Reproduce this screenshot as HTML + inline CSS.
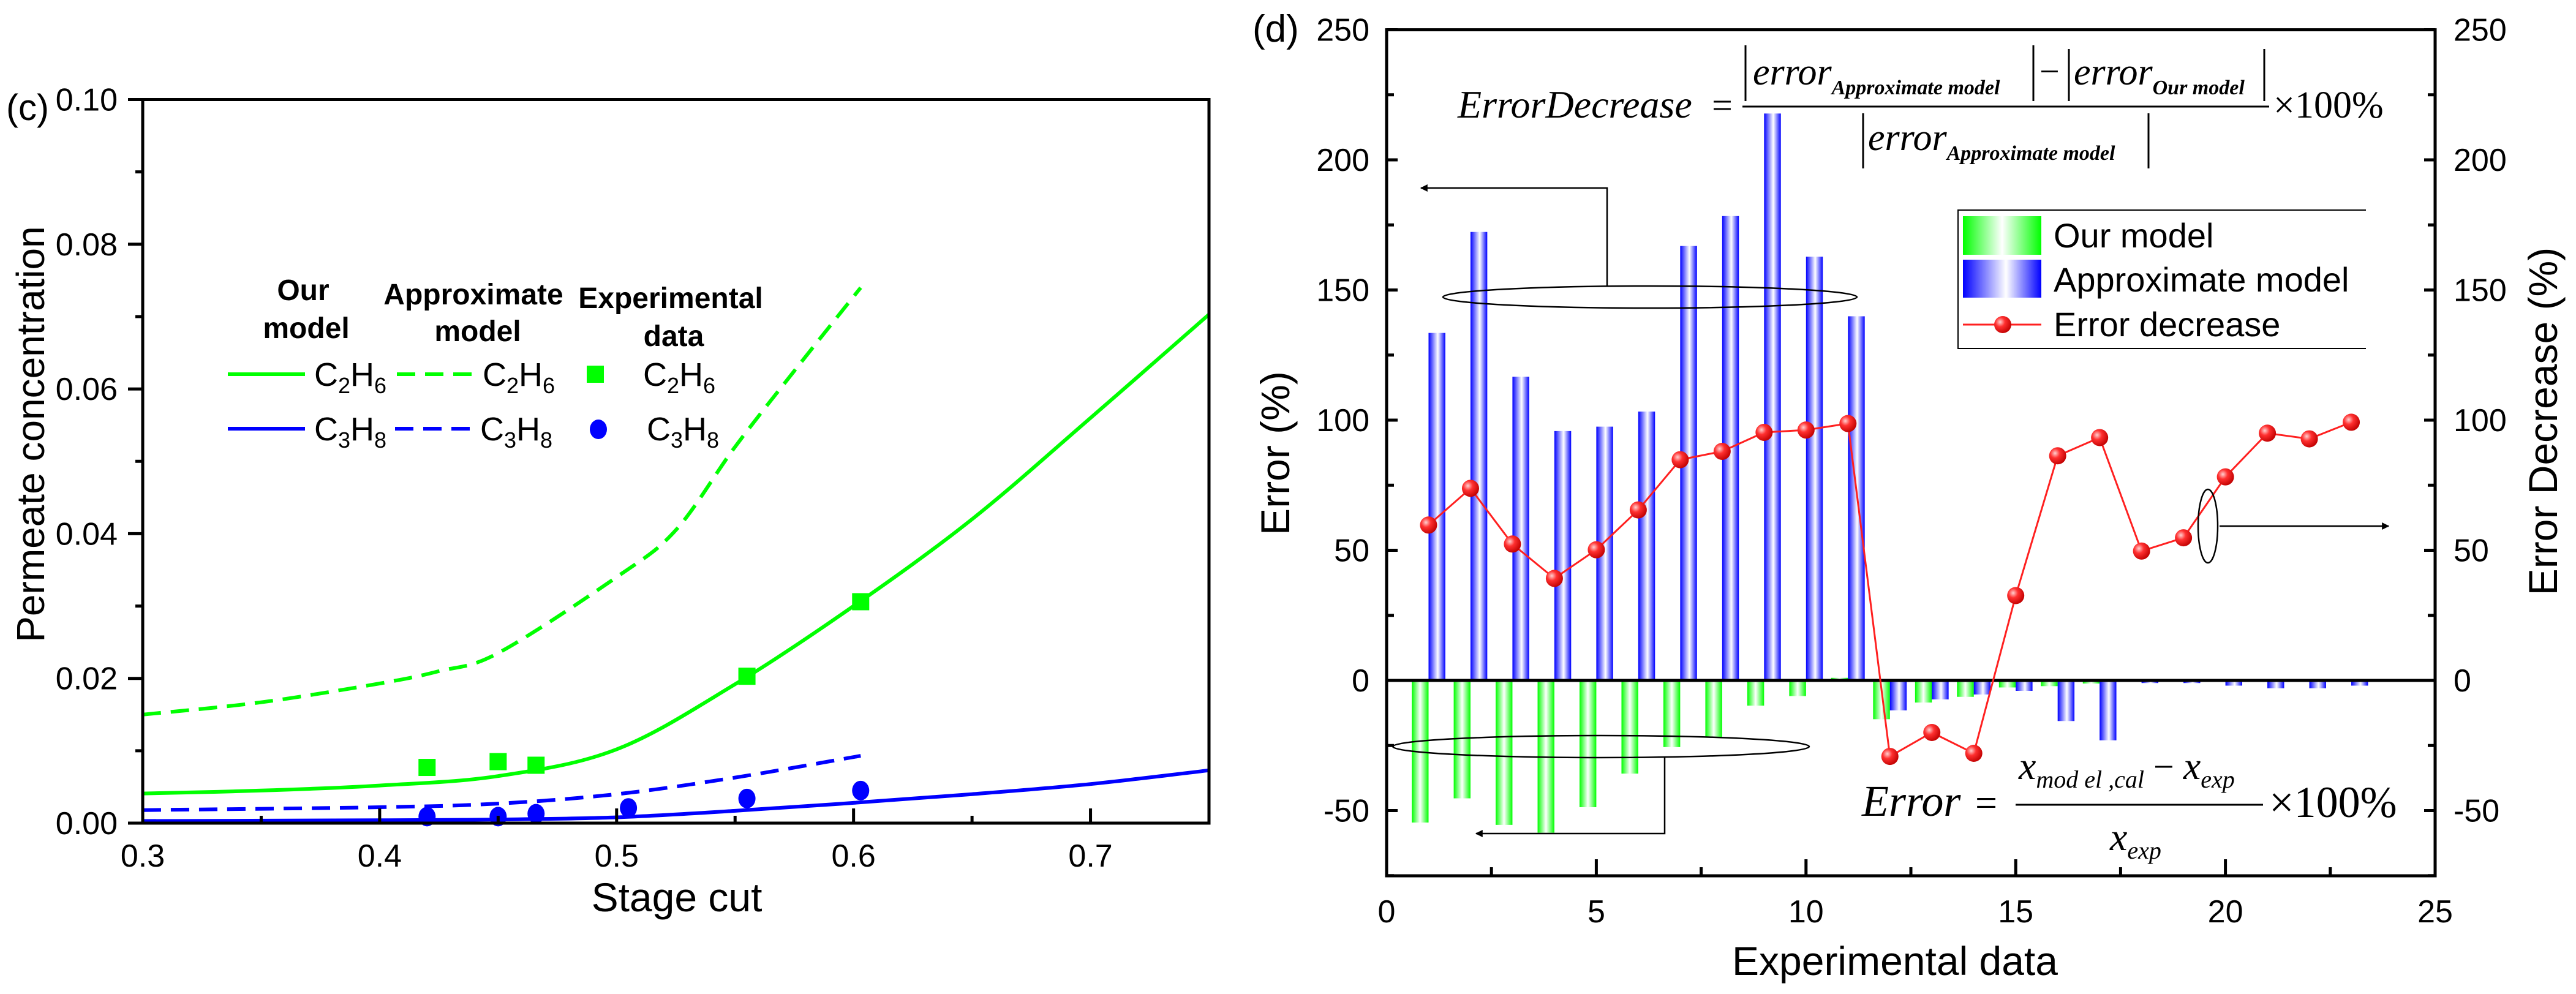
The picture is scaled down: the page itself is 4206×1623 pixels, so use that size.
<!DOCTYPE html>
<html><head><meta charset="utf-8"><style>
html,body{margin:0;padding:0;background:#fff;}
svg{display:block;font-family:"Liberation Sans",Arial,sans-serif;}
.tk{font-size:52px;}
</style></head><body>
<svg id="svg" width="4206" height="1623" viewBox="0 0 4206 1623" xmlns="http://www.w3.org/2000/svg">
<defs>
<linearGradient id="gB" x1="0" x2="1" y1="0" y2="0"><stop offset="0" stop-color="#0000ff"/><stop offset="0.55" stop-color="#ffffff"/><stop offset="1" stop-color="#0000ff"/></linearGradient>
<linearGradient id="gG" x1="0" x2="1" y1="0" y2="0"><stop offset="0" stop-color="#00ff00"/><stop offset="0.5" stop-color="#ffffff"/><stop offset="1" stop-color="#00ff00"/></linearGradient>
<radialGradient id="gR" cx="0.35" cy="0.35" r="0.7"><stop offset="0" stop-color="#ffd0d0"/><stop offset="0.4" stop-color="#ff3030"/><stop offset="1" stop-color="#c00000"/></radialGradient>
<marker id="arr" viewBox="0 0 10 10" refX="9" refY="5" markerWidth="12" markerHeight="12" markerUnits="userSpaceOnUse" orient="auto"><path d="M0,0 L10,5 L0,10 z" fill="#000"/></marker>
</defs>
<g id="left"></g>
<g id="right"></g>
</svg>
<script>
// ---------- Panel (c) data ----------
const ourC2x=[0.3,0.35,0.4,0.45,0.5,0.55,0.6,0.65,0.7,0.75];
const ourC2y=[0.0041,0.0045,0.0052,0.0065,0.0102,0.0192,0.0300,0.0420,0.0560,0.0703];
const apxC2x=[0.3,0.35,0.4,0.425,0.45,0.5,0.525,0.55,0.575,0.603];
const apxC2y=[0.0150,0.0167,0.0193,0.0210,0.0235,0.0340,0.0405,0.0520,0.0625,0.0740];
const ourC3x=[0.3,0.4,0.45,0.5,0.55,0.6,0.65,0.7,0.75];
const ourC3y=[0.0003,0.0004,0.0005,0.0008,0.0017,0.0028,0.0040,0.0054,0.0073];
const apxC3x=[0.3,0.4,0.45,0.5,0.55,0.603];
const apxC3y=[0.0018,0.0022,0.0027,0.0040,0.0063,0.0093];
const expC2x=[0.42,0.45,0.466,0.555,0.603];
const expC2y=[0.0077,0.0085,0.0080,0.0203,0.0306];
const expC3x=[0.42,0.45,0.466,0.505,0.555,0.603];
const expC3y=[0.0009,0.0009,0.0013,0.0021,0.0034,0.0045];
const cXTicks=[0.3,0.4,0.5,0.6,0.7];
const cYTicks=[0,0.02,0.04,0.06,0.08,0.10];
// ---------- Panel (d) data ----------
const dIndex=[1,2,3,4,5,6,7,8,9,10,11,12,13,14,15,16,17,18,19,20,21,22,23];
const ourErr=[-54.6,-45.3,-55.5,-58.5,-48.7,-35.8,-25.6,-21.7,-9.7,-6,1,-14.9,-8.5,-6.3,-2.7,-2.2,-1.2,-0.4,-0.4,-0.4,-0.4,-0.4,-0.4];
const apxErr=[133.5,172.3,116.7,95.8,97.5,103.3,166.9,178.4,217.8,162.8,139.9,-11.5,-7.3,-5.4,-4,-15.6,-23,-1,-1,-2,-3,-3,-2];
const errDec=[59.7,73.8,52.4,39.2,50.2,65.5,84.8,88,95.3,96.2,98.7,-29.2,-20,-28,32.6,86.3,93.3,49.7,54.8,78.2,95,92.8,99.2];
const dXTicks=[0,5,10,15,20,25];
const dYTicks=[-50,0,50,100,150,200,250];

const NS="http://www.w3.org/2000/svg";
function mk(parent,tag,attrs,text){const e=document.createElementNS(NS,tag);for(const k in attrs)e.setAttribute(k,attrs[k]);if(text!==undefined)e.textContent=text;parent.appendChild(e);return e;}

// ===== Panel c =====
const L=document.getElementById('left');
const cx0=233,cx1=1974,cy0=1344,cy1=162.5;
const X=v=>cx0+(v-0.3)/0.45*(cx1-cx0);
const Y=v=>cy0-v/0.1*(cy0-cy1);
function path(xs,ys,fx,fy){
  const p=xs.map((x,i)=>[fx(x),fy(ys[i])]);
  let d='M'+p[0][0].toFixed(1)+','+p[0][1].toFixed(1);
  for(let i=0;i<p.length-1;i++){
    const p0=p[Math.max(i-1,0)],p1=p[i],p2=p[i+1],p3=p[Math.min(i+2,p.length-1)];
    const c1=[p1[0]+(p2[0]-p0[0])/6,p1[1]+(p2[1]-p0[1])/6];
    const c2=[p2[0]-(p3[0]-p1[0])/6,p2[1]-(p3[1]-p1[1])/6];
    d+=' C'+c1.map(v=>v.toFixed(1)).join(',')+' '+c2.map(v=>v.toFixed(1)).join(',')+' '+p2.map(v=>v.toFixed(1)).join(',');
  }
  return d;}
let e;
e=mk(L,'path',{d:path(apxC2x,apxC2y,X,Y),fill:'none',stroke:'#00ff00','stroke-width':6,'stroke-dasharray':'30,16'});

e=mk(L,'path',{d:path(apxC3x,apxC3y,X,Y),fill:'none',stroke:'#0000ff','stroke-width':6,'stroke-dasharray':'30,16'});

e=mk(L,'path',{d:path(ourC2x,ourC2y,X,Y),fill:'none',stroke:'#00ff00','stroke-width':6});

e=mk(L,'path',{d:path(ourC3x,ourC3y,X,Y),fill:'none',stroke:'#0000ff','stroke-width':6});

expC2x.forEach((x,i)=>{const r=mk(L,'rect',{x:X(x)-14,y:Y(expC2y[i])-14,width:28,height:28,fill:'#00ff00'});
});
expC3x.forEach((x,i)=>{const c=mk(L,'ellipse',{cx:X(x),cy:Y(expC3y[i]),rx:14,ry:16,fill:'#0000ff'});
});
// axes
mk(L,'rect',{x:cx0,y:cy1,width:cx1-cx0,height:cy0-cy1,fill:'none',stroke:'#000','stroke-width':5});
for(let v=0;v<=0.1001;v+=0.01){const y=Y(v);const major=Math.round(v*100)%2===0;mk(L,'line',{x1:cx0,x2:cx0-(major?24:12),y1:y,y2:y,stroke:'#000','stroke-width':5});}
cYTicks.forEach(v=>{const t=mk(L,'text',{x:192,y:Y(v)+18,'text-anchor':'end',class:'tk'},v.toFixed(2));
});
for(let v=0.3;v<=0.7501;v+=0.05){const x=X(v);const major=Math.round(v*100)%10===0;mk(L,'line',{x1:x,x2:x,y1:cy0,y2:cy0-(major?24:12),stroke:'#000','stroke-width':5});}
cXTicks.forEach(v=>{const t=mk(L,'text',{x:X(v),y:1415,'text-anchor':'middle',class:'tk'},v.toFixed(1));
});
</script>
<script>
(function(){
const L=document.getElementById('left');
L.insertAdjacentHTML('beforeend',`
<text x="10" y="196" font-size="60">(c)</text>
<text transform="translate(72,709) rotate(-90)" text-anchor="middle" font-size="64">Permeate concentration</text>
<text x="1105" y="1488" text-anchor="middle" font-size="66">Stage cut</text>
<g font-weight="bold" font-size="48" text-anchor="middle">
<text x="495" y="490">Our</text>
<text x="500" y="552">model</text>
<text x="773" y="497">Approximate</text>
<text x="780" y="557">model</text>
<text x="1095" y="503">Experimental</text>
<text x="1100" y="565">data</text>
</g>
<g font-size="54">
<line x1="372" x2="498" y1="611" y2="611" stroke="#00ff00" stroke-width="6"/>
<text x="513" y="630">C<tspan font-size="36" dy="12">2</tspan><tspan dy="-12">H</tspan><tspan font-size="36" dy="12">6</tspan></text>
<line x1="648" x2="774" y1="611" y2="611" stroke="#00ff00" stroke-width="6" stroke-dasharray="30,16"/>
<text x="788" y="630">C<tspan font-size="36" dy="12">2</tspan><tspan dy="-12">H</tspan><tspan font-size="36" dy="12">6</tspan></text>
<rect x="958" y="597" width="28" height="28" fill="#00ff00"/>
<text x="1050" y="630">C<tspan font-size="36" dy="12">2</tspan><tspan dy="-12">H</tspan><tspan font-size="36" dy="12">6</tspan></text>
<line x1="372" x2="498" y1="700" y2="700" stroke="#0000ff" stroke-width="6"/>
<text x="513" y="719">C<tspan font-size="36" dy="12">3</tspan><tspan dy="-12">H</tspan><tspan font-size="36" dy="12">8</tspan></text>
<line x1="645" x2="771" y1="700" y2="700" stroke="#0000ff" stroke-width="6" stroke-dasharray="30,16"/>
<text x="784" y="719">C<tspan font-size="36" dy="12">3</tspan><tspan dy="-12">H</tspan><tspan font-size="36" dy="12">8</tspan></text>
<ellipse cx="977" cy="701" rx="14" ry="16" fill="#0000ff"/>
<text x="1056" y="719">C<tspan font-size="36" dy="12">3</tspan><tspan dy="-12">H</tspan><tspan font-size="36" dy="12">8</tspan></text>
</g>`);
})();
</script>
<script>
(function(){
const R=document.getElementById('right');
const x0=2264,x1=3976,yTop=48.6,yBot=1430,yZero=1111;
const X2=v=>x0+v*(x1-x0)/25;
const Y2=v=>yZero-v*4.25;
const w=0.4;
dIndex.forEach((d,i)=>{
  const a=ourErr[i];const y=Math.min(Y2(0),Y2(a));const h=Math.abs(Y2(a)-Y2(0));
  const r=mk(R,'rect',{x:X2(d-w),y:y,width:X2(w)-X2(0),height:Math.max(h,1),fill:'url(#gG)'});
  
  
  const b=apxErr[i];const yb=Math.min(Y2(0),Y2(b));const hb=Math.abs(Y2(b)-Y2(0));
  const r2=mk(R,'rect',{x:X2(d),y:yb,width:X2(w)-X2(0),height:Math.max(hb,1),fill:'url(#gB)'});
  
  
});
mk(R,'rect',{x:x0,y:yTop,width:x1-x0,height:yBot-yTop,fill:'none',stroke:'#000','stroke-width':5});
mk(R,'line',{x1:x0,x2:x1,y1:yZero,y2:yZero,stroke:'#000','stroke-width':5});
for(let v=-75;v<=250;v+=25){const y=Y2(v);const major=v%50===0;const len=major?18:12;
  mk(R,'line',{x1:x0,x2:x0+len,y1:y,y2:y,stroke:'#000','stroke-width':5});
  mk(R,'line',{x1:x1,x2:x1-len,y1:y,y2:y,stroke:'#000','stroke-width':5});}
dYTicks.forEach(v=>{
  const t=mk(R,'text',{x:2236,y:Y2(v)+18,'text-anchor':'end',class:'tk'},String(v));
  
  const t2=mk(R,'text',{x:4006,y:Y2(v)+18,'text-anchor':'start',class:'tk'},String(v));
  });
for(let v=0;v<=25;v+=2.5){const x=X2(v);const major=v%5===0;mk(R,'line',{x1:x,x2:x,y1:yBot,y2:yBot-(major?27:14),stroke:'#000','stroke-width':5});}
dXTicks.forEach(v=>{const t=mk(R,'text',{x:X2(v),y:1506,'text-anchor':'middle',class:'tk'},String(v));
  });
const pl=mk(R,'path',{d:dIndex.map((d,i)=>(i?'L':'M')+X2(d).toFixed(1)+','+Y2(errDec[i]).toFixed(1)).join(' '),fill:'none',stroke:'#ff2020','stroke-width':3});

dIndex.forEach((d,i)=>{const c=mk(R,'circle',{cx:X2(d),cy:Y2(errDec[i]),r:14,fill:'url(#gR)'});
  });
})();
</script>
<script>
(function(){
const R=document.getElementById('right');
R.insertAdjacentHTML('beforeend',`
<text x="2045" y="68" font-size="62">(d)</text>
<text transform="translate(2105,740) rotate(-90)" text-anchor="middle" font-size="66">Error (%)</text>
<text transform="translate(4175,688) rotate(-90)" text-anchor="middle" font-size="66">Error Decrease (%)</text>
<text x="3094" y="1592" text-anchor="middle" font-size="66">Experimental data</text>
<g>
<path d="M3863,343 L3197,343 L3197,569 L3863,569" fill="none" stroke="#000" stroke-width="2"/>
<rect x="3205" y="353" width="128" height="63" fill="url(#gG)"/>
<text x="3353" y="404" font-size="56">Our model</text>
<rect x="3205" y="424" width="128" height="62" fill="url(#gB)"/>
<text x="3353" y="476" font-size="56">Approximate model</text>
<line x1="3205" x2="3333" y1="530" y2="530" stroke="#ff2020" stroke-width="3"/>
<circle cx="3270" cy="530" r="14" fill="url(#gR)"/>
<text x="3353" y="549" font-size="56">Error decrease</text>
</g>
<g font-family="Liberation Serif, serif" font-style="italic">
<text x="2380" y="192" font-size="64">ErrorDecrease</text>
<text x="2795" y="192" font-size="60" font-style="normal">=</text>
<line x1="2845" x2="3705" y1="174" y2="174" stroke="#000" stroke-width="3"/>
<line x1="2850" x2="2850" y1="74" y2="165" stroke="#000" stroke-width="3"/>
<text x="2862" y="138" font-size="62">error<tspan font-size="34" font-weight="bold" dy="16">Approximate model</tspan></text>
<line x1="3320" x2="3320" y1="74" y2="165" stroke="#000" stroke-width="3"/>
<text x="3330" y="136" font-size="58" font-style="normal">−</text>
<line x1="3378" x2="3378" y1="80" y2="165" stroke="#000" stroke-width="3"/>
<text x="3386" y="138" font-size="62">error<tspan font-size="34" font-weight="bold" dy="16">Our model</tspan></text>
<line x1="3697" x2="3697" y1="80" y2="165" stroke="#000" stroke-width="3"/>
<line x1="3042" x2="3042" y1="185" y2="275" stroke="#000" stroke-width="3"/>
<text x="3050" y="245" font-size="62">error<tspan font-size="34" font-weight="bold" dy="16">Approximate model</tspan></text>
<line x1="3508" x2="3508" y1="185" y2="275" stroke="#000" stroke-width="3"/>
<text x="3712" y="192" font-size="62" font-style="normal">×100%</text>
</g>
<g font-family="Liberation Serif, serif" font-style="italic">
<text x="3040" y="1332" font-size="72">Error</text>
<text x="3225" y="1332" font-size="64" font-style="normal">=</text>
<line x1="3291" x2="3695" y1="1314" y2="1314" stroke="#000" stroke-width="3"/>
<text x="3296" y="1272" font-size="64">x<tspan font-size="40" dy="14">mod el ,cal</tspan><tspan font-style="normal" font-size="60" dy="-14"> − </tspan>x<tspan font-size="40" dy="14">exp</tspan></text>
<text x="3445" y="1388" font-size="64">x<tspan font-size="40" dy="14">exp</tspan></text>
<text x="3705" y="1334" font-size="72" font-style="normal">×100%</text>
</g>
<g fill="none" stroke="#000" stroke-width="2.5">
<ellipse cx="2694" cy="485" rx="338" ry="18"/>
<polyline points="2624,467 2624,307 2320,307" marker-end="url(#arr)"/>
<ellipse cx="2614" cy="1219" rx="340" ry="18"/>
<polyline points="2718,1237 2718,1361 2410,1361" marker-end="url(#arr)"/>
<ellipse cx="3605" cy="859" rx="16" ry="60"/>
<polyline points="3624,859 3900,859" marker-end="url(#arr)"/>
</g>`);
})();
</script>
</body></html>
